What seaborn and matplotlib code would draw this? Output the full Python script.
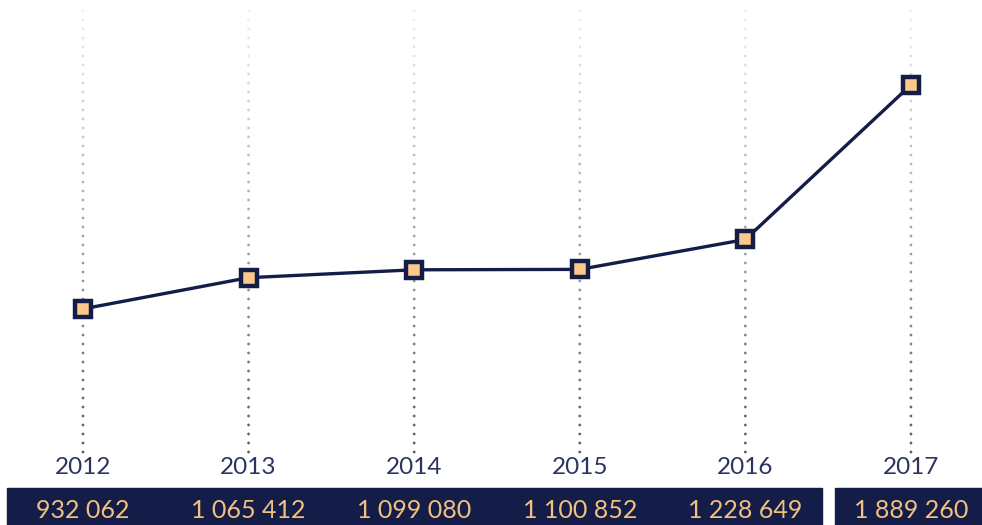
import numpy as np
import matplotlib
matplotlib.use("Agg")
import matplotlib.pyplot as plt
import seaborn as sns
from matplotlib.patches import Rectangle
import matplotlib.transforms as mtransforms

years = ["2012", "2013", "2014", "2015", "2016", "2017"]
values = [932062, 1065412, 1099080, 1100852, 1228649, 1889260]

NAVY = "#141d48"
PEACH = "#fcc98a"
LABEL_NAVY = "#2b3461"
NUM_COLOR = "#f3c07f"

sns.set_style("white")
plt.rcParams["font.family"] = ["Lato", "DejaVu Sans"]

fig = plt.figure(figsize=(9.82, 5.25), dpi=100)
ax = fig.add_axes([0, 0, 1, 1])

xs = np.arange(len(years))
ax.set_xlim(-0.501, 5.429)
ax.set_ylim(8546, 2251976)

# faded dotted guides
trans = mtransforms.blended_transform_factory(ax.transData, fig.transFigure)
dot_y = np.arange(452, 10, -9.0)
alphas = np.linspace(0.9, 0.08, len(dot_y))
for x in xs:
    ax.scatter(np.full(len(dot_y), x), 1 - dot_y / 525, s=4, color="#4a4a4a",
               alpha=alphas, linewidths=0, transform=trans, zorder=1)

sns.lineplot(x=xs, y=values, ax=ax, color=NAVY, linewidth=2.4, marker="s",
             markersize=12, markerfacecolor=PEACH, markeredgecolor=NAVY,
             markeredgewidth=3.2, zorder=3)

for x, yr in zip(xs, years):
    ax.text(x, 1 - 467 / 525, yr, transform=trans, ha="center", va="center",
            fontsize=17.5, color=LABEL_NAVY, zorder=4)

# bottom value bands
ax.add_patch(Rectangle((7 / 982, 0), (822 - 7) / 982, 37 / 525,
                       transform=fig.transFigure, color=NAVY, zorder=2,
                       clip_on=False))
ax.add_patch(Rectangle((835 / 982, 0), (982 - 835) / 982, 37 / 525,
                       transform=fig.transFigure, color=NAVY, zorder=2,
                       clip_on=False))
for x, v in zip(xs, values):
    ax.text(x, 1 - 510 / 525, f"{v:,}".replace(",", " "), transform=trans,
            ha="center", va="center", fontsize=18, color=NUM_COLOR, zorder=5)

ax.axis("off")
fig.savefig("out.png", dpi=100)
